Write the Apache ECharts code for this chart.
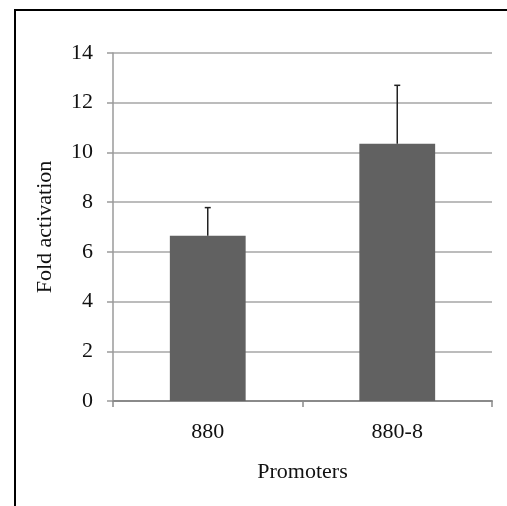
<!DOCTYPE html>
<html>
<head>
<meta charset="utf-8">
<script src="https://cdn.jsdelivr.net/npm/echarts@6/dist/echarts.min.js"></script>
<style>
  html, body { margin: 0; padding: 0; background: #fff; }
  #chart { width: 507px; height: 506px; }
</style>
</head>
<body>
<div id="chart"></div>
<script>
// Promoter activity: mean fold activation with upper error bar
const categories = ['880', '880-8'];
const foldActivation = [6.65, 10.35];
const errorUpper = [1.13, 2.35];
const yTicks = { min: 0, max: 14, interval: 2 };

const FONT = '"Liberation Serif", "Times New Roman", serif';
const chart = echarts.init(document.getElementById('chart'), null, { renderer: 'canvas' });

const errorData = categories.map((c, i) => [i, foldActivation[i], foldActivation[i] + errorUpper[i]]);

chart.setOption({
  animation: false,
  backgroundColor: '#ffffff',
  graphic: [{
    type: 'rect',
    shape: { x: 15, y: 10, width: 700, height: 700 },
    style: { fill: 'none', stroke: '#000', lineWidth: 2 },
    silent: true
  }],
  grid: { left: 113, right: 15, top: 53, bottom: 105 },
  xAxis: {
    type: 'category',
    data: categories,
    name: 'Promoters',
    nameLocation: 'middle',
    nameGap: 60,
    nameTextStyle: { fontFamily: FONT, fontSize: 22, color: '#111' },
    axisLine: { lineStyle: { color: '#8a8a8a', width: 2 } },
    axisTick: { show: true, length: 6, lineStyle: { color: '#8a8a8a', width: 1.5 } },
    axisLabel: { fontFamily: FONT, fontSize: 22, color: '#111', margin: 20 }
  },
  yAxis: {
    type: 'value',
    min: yTicks.min,
    max: yTicks.max,
    interval: yTicks.interval,
    name: 'Fold activation',
    nameLocation: 'middle',
    nameGap: 57,
    nameTextStyle: { fontFamily: FONT, fontSize: 22, color: '#111' },
    axisLine: { show: true, lineStyle: { color: '#9a9a9a', width: 1.5 } },
    axisTick: { show: true, length: 6, lineStyle: { color: '#9a9a9a', width: 1.5 } },
    axisLabel: { fontFamily: FONT, fontSize: 22, color: '#111', margin: 20 },
    splitLine: { lineStyle: { color: '#a6a6a6', width: 1.5 } }
  },
  series: [
    {
      type: 'bar',
      data: foldActivation,
      barWidth: '40%',
      itemStyle: { color: '#616161' },
      z: 2
    },
    {
      type: 'custom',
      data: errorData,
      z: 3,
      renderItem: function (params, api) {
        const base = api.coord([api.value(0), api.value(1)]);
        const top = api.coord([api.value(0), api.value(2)]);
        const cap = 3;
        const st = { stroke: '#222', lineWidth: 1.5 };
        return {
          type: 'group',
          children: [
            { type: 'line', shape: { x1: base[0], y1: base[1], x2: top[0], y2: top[1] }, style: st },
            { type: 'line', shape: { x1: top[0] - cap, y1: top[1], x2: top[0] + cap, y2: top[1] }, style: st }
          ]
        };
      }
    }
  ]
});
</script>
</body>
</html>
